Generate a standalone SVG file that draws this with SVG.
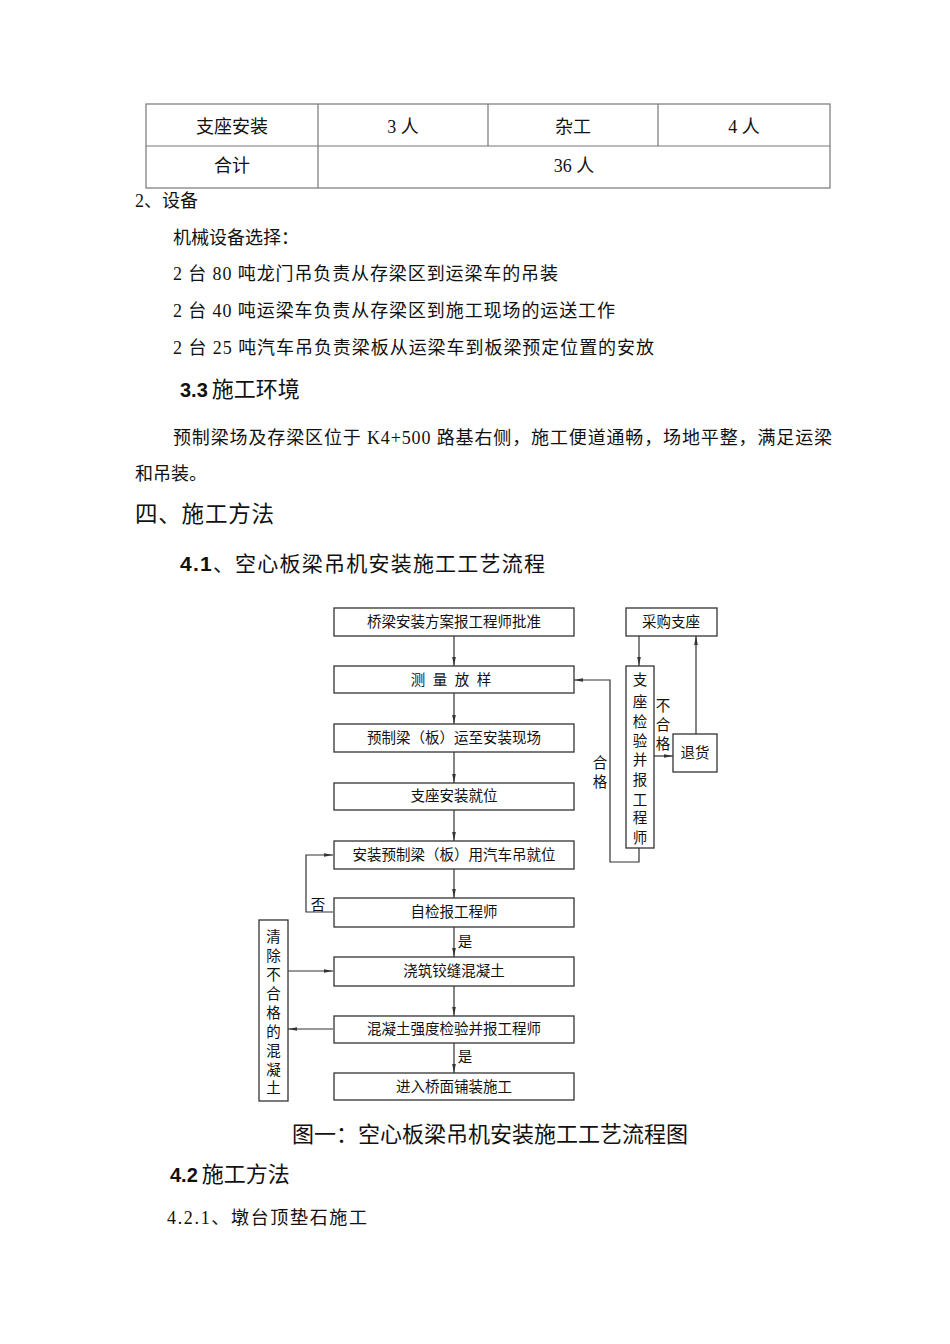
<svg xmlns="http://www.w3.org/2000/svg" width="950" height="1344" viewBox="0 0 950 1344">
<style>
.t{font-family:"Liberation Serif","Noto Sans CJK SC",serif;fill:#111}
.c{font-family:"Noto Sans CJK SC",sans-serif;fill:#111}
.b{font-family:"Liberation Sans",Arial,sans-serif;font-weight:bold;fill:#111}
.body{font-size:18px}
.fc{font-size:14.5px;text-anchor:middle}
.box{fill:#fff;stroke:#333;stroke-width:1.3}
.tbl{fill:none;stroke:#777;stroke-width:1.2}
.con{fill:none;stroke:#333;stroke-width:1.2}
</style>
<defs>
<marker id="ah" viewBox="0 0 10 4" refX="10" refY="2" markerWidth="9" markerHeight="4" orient="auto" markerUnits="userSpaceOnUse"><path d="M0,0 L10,2 L0,4 z" fill="#333"/></marker>
</defs>
<rect width="950" height="1344" fill="#fff"/>

<g id="table">
<rect class="tbl" x="146" y="104" width="684" height="84"/>
<line class="tbl" x1="146" y1="146" x2="830" y2="146"/>
<line class="tbl" x1="318" y1="104" x2="318" y2="188"/>
<line class="tbl" x1="488" y1="104" x2="488" y2="146"/>
<line class="tbl" x1="658" y1="104" x2="658" y2="146"/>
<g class="t" font-size="18" text-anchor="middle">
<text x="232" y="133">支座安装</text>
<text x="403" y="133">3 人</text>
<text x="573" y="133">杂工</text>
<text x="744" y="133">4 人</text>
<text x="232" y="172">合计</text>
<text x="574" y="172">36 人</text>
</g>
</g>

<g id="text-body" class="t body">
<text x="135" y="207">2、设备</text>
<text x="173" y="244">机械设备选择：</text>
<text x="173" y="280" textLength="385" lengthAdjust="spacing">2 台 80 吨龙门吊负责从存梁区到运梁车的吊装</text>
<text x="173" y="317" textLength="442" lengthAdjust="spacing">2 台 40 吨运梁车负责从存梁区到施工现场的运送工作</text>
<text x="173" y="354" textLength="481" lengthAdjust="spacing">2 台 25 吨汽车吊负责梁板从运梁车到板梁预定位置的安放</text>
<text x="173" y="444" textLength="659" lengthAdjust="spacing">预制梁场及存梁区位于 K4+500 路基右侧，施工便道通畅，场地平整，满足运梁</text>
<text x="135" y="480">和吊装。</text>
<text x="167" y="1224" textLength="200" lengthAdjust="spacing">4.2.1、墩台顶垫石施工</text>
</g>

<g id="headings">
<text x="180" y="397"><tspan class="b" font-size="20">3.3</tspan><tspan class="t" font-size="22" dx="4">施工环境</tspan></text>
<text x="135" y="522" class="t" font-size="22.5" textLength="139" lengthAdjust="spacing">四、施工方法</text>
<text x="180" y="571" font-size="21" textLength="365" lengthAdjust="spacing"><tspan class="b">4.1</tspan><tspan class="t">、空心板梁吊机安装施工工艺流程</tspan></text>
<text x="490" y="1142" class="t" font-size="22" text-anchor="middle">图一：空心板梁吊机安装施工工艺流程图</text>
<text x="170" y="1182"><tspan class="b" font-size="20">4.2</tspan><tspan class="t" font-size="22" dx="4">施工方法</tspan></text>
</g>

<g id="connectors">
<path class="con" marker-end="url(#ah)" d="M454,636 V666"/>
<path class="con" marker-end="url(#ah)" d="M454,693 V724"/>
<path class="con" marker-end="url(#ah)" d="M454,752 V783"/>
<path class="con" marker-end="url(#ah)" d="M454,810 V841"/>
<path class="con" marker-end="url(#ah)" d="M454,869 V898"/>
<path class="con" marker-end="url(#ah)" d="M454,927 V957"/>
<path class="con" marker-end="url(#ah)" d="M454,986 V1016"/>
<path class="con" marker-end="url(#ah)" d="M454,1043 V1073"/>
<path class="con" marker-end="url(#ah)" d="M639,636 V666"/>
<path class="con" marker-end="url(#ah)" d="M654,756 H673"/>
<path class="con" marker-end="url(#ah)" d="M696,734 V636"/>
<path class="con" marker-end="url(#ah)" d="M639,848 V862 H610 V680 H574"/>
<path class="con" marker-end="url(#ah)" d="M333,912 H306 V855 H333"/>
<path class="con" marker-end="url(#ah)" d="M288,971 H333"/>
<path class="con" marker-end="url(#ah)" d="M333,1029 H288"/>
<g class="t" font-size="14.5" text-anchor="middle">
<text x="663" y="711">不</text>
<text x="663" y="730">合</text>
<text x="663" y="749">格</text>
<text x="600" y="768">合</text>
<text x="600" y="787">格</text>
<text x="318" y="910">否</text>
<text x="465" y="947">是</text>
<text x="465" y="1062">是</text>
</g>
</g>

<g id="n1"><rect class="box" x="334" y="608" width="240" height="28"/><text class="t fc" x="454" y="627">桥梁安装方案报工程师批准</text></g>
<g id="n2"><rect class="box" x="334" y="666" width="240" height="27"/><text class="c fc" y="685"><tspan x="418">测</tspan><tspan x="440">量</tspan><tspan x="462">放</tspan><tspan x="484">样</tspan></text></g>
<g id="n3"><rect class="box" x="334" y="724" width="240" height="28"/><text class="t fc" x="454" y="743">预制梁（板）运至安装现场</text></g>
<g id="n4"><rect class="box" x="334" y="783" width="240" height="27"/><text class="t fc" x="454" y="801">支座安装就位</text></g>
<g id="n5"><rect class="box" x="334" y="841" width="240" height="28"/><text class="t fc" x="454" y="860">安装预制梁（板）用汽车吊就位</text></g>
<g id="n6"><rect class="box" x="334" y="898" width="240" height="29"/><text class="t fc" x="454" y="917">自检报工程师</text></g>
<g id="n7"><rect class="box" x="334" y="957" width="240" height="29"/><text class="t fc" x="454" y="976">浇筑铰缝混凝土</text></g>
<g id="n8"><rect class="box" x="334" y="1016" width="240" height="27"/><text class="t fc" x="454" y="1034">混凝土强度检验并报工程师</text></g>
<g id="n9"><rect class="box" x="334" y="1073" width="240" height="27"/><text class="t fc" x="454" y="1092">进入桥面铺装施工</text></g>
<g id="n-caigou"><rect class="box" x="626" y="608" width="91" height="28"/><text class="t fc" x="671" y="627">采购支座</text></g>
<g id="n-jianyan"><rect class="box" x="626" y="666" width="28" height="182"/>
<g class="t fc"><text x="640" y="685">支</text><text x="640" y="707">座</text><text x="640" y="727">检</text><text x="640" y="746">验</text><text x="640" y="765">并</text><text x="640" y="785">报</text><text x="640" y="805">工</text><text x="640" y="823">程</text><text x="640" y="843">师</text></g></g>
<g id="n-tuihuo"><rect class="box" x="673" y="734" width="44" height="38"/><text class="t fc" x="695" y="758">退货</text></g>
<g id="n-qingchu"><rect class="box" x="259" y="920" width="29" height="181"/>
<g class="t fc"><text x="273.5" y="942">清</text><text x="273.5" y="961">除</text><text x="273.5" y="980">不</text><text x="273.5" y="999">合</text><text x="273.5" y="1018">格</text><text x="273.5" y="1037">的</text><text x="273.5" y="1056">混</text><text x="273.5" y="1075">凝</text><text x="273.5" y="1093">土</text></g></g>
</svg>
